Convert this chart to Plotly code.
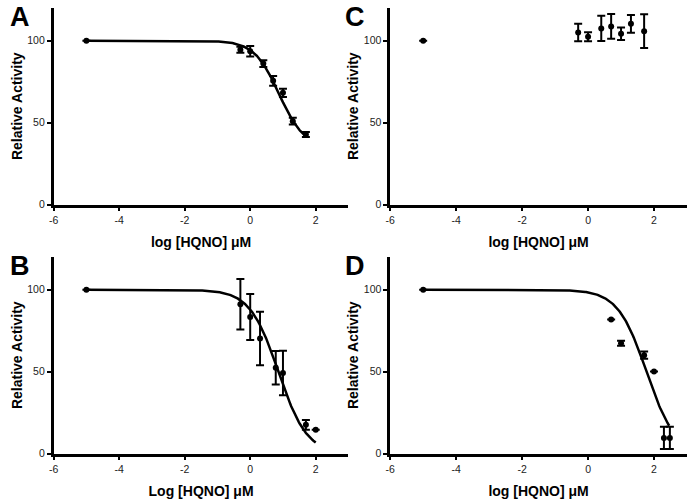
import numpy as np
import plotly.graph_objects as go

# ---------------- data ----------------
a_x = [-5, -0.3, 0, 0.4, 0.7, 1.0, 1.3, 1.7]
a_y = [100, 94.5, 93.6, 86, 75.5, 68.2, 50.9, 42.7]
a_err = [None, 1.8, 3.2, 2.0, 3.0, 2.5, 2.0, 1.5]

c_x = [-5, -0.3, 0, 0.4, 0.7, 1.0, 1.3, 1.7]
c_y = [100, 105, 102.4, 107.5, 108.7, 104.2, 110.3, 105.8]
c_err = [None, 5.3, 2.7, 7.7, 7.6, 3.8, 5.4, 10.3]

b_x = [-5, -0.3, 0, 0.3, 0.78, 1.0, 1.7, 2.0]
b_y = [100, 91.1, 83.3, 70.2, 52.4, 49.2, 17.5, 14.5]
b_err = [None, 15.4, 14.0, 16.3, 10.2, 13.6, 3.0, None]

d_x = [-5, 0.7, 1.0, 1.7, 2.0, 2.3, 2.48]
d_y = [100, 81.8, 67.3, 60, 50.1, 9.5, 9.5]
d_err = [None, None, 1.5, 2.2, None, 6.8, 6.8]

# fitted dose-response (Hill) parameters: top, bottom, logIC50, hill slope, x-end
fit_a = dict(top=100, bottom=35, logic50=0.88, hill=1.15, xmin=-5, xmax=1.7)
fit_b = dict(top=100, bottom=0, logic50=0.86, hill=1.0, xmin=-5, xmax=2.0)
fit_d = dict(top=100, bottom=0, logic50=1.77, hill=1.0, xmin=-5, xmax=2.46)

x_ticks = [-6, -4, -2, 0, 2]
y_ticks = [0, 50, 100]
x_titles = ["log [HQNO] μM", "log [HQNO] μM", "Log [HQNO] μM", "log [HQNO] μM"]
panel_labels = ["A", "C", "B", "D"]


def hill_curve(p):
    xs = np.linspace(p["xmin"], p["xmax"], 300)
    ys = p["bottom"] + (p["top"] - p["bottom"]) / (1 + 10 ** ((xs - p["logic50"]) * p["hill"]))
    return xs, ys


W, H = 688, 504
FONT = "Liberation Sans, Arial, sans-serif"


def px_x(v):
    return v / W


def px_y(v):
    return 1 - v / H


fig = go.Figure()

panels = [
    (a_x, a_y, a_err, fit_a),
    (c_x, c_y, c_err, None),
    (b_x, b_y, b_err, fit_b),
    (d_x, d_y, d_err, fit_d),
]

for i, (px, py, pe, fit) in enumerate(panels):
    suffix = "" if i == 0 else str(i + 1)
    xa, ya = "x" + suffix, "y" + suffix
    if fit is not None:
        cx, cy = hill_curve(fit)
        fig.add_trace(go.Scatter(x=cx, y=cy, mode="lines", xaxis=xa, yaxis=ya,
                                 line=dict(color="black", width=2.5),
                                 showlegend=False, hoverinfo="skip"))
    fig.add_trace(go.Scatter(x=px, y=py, mode="markers", xaxis=xa, yaxis=ya,
                             marker=dict(color="black", size=6),
                             error_y=dict(type="data", array=pe, visible=True,
                                          color="black", thickness=2, width=4),
                             showlegend=False))

left_dom = [px_x(49), px_x(346)]
right_dom = [px_x(388), px_x(687)]
top_dom = [px_y(207), px_y(8)]
bot_dom = [px_y(459), px_y(260)]

doms = [(left_dom, top_dom), (right_dom, top_dom), (left_dom, bot_dom), (right_dom, bot_dom)]

layout = dict(
    width=W, height=H,
    margin=dict(l=0, r=0, t=0, b=0),
    paper_bgcolor="white", plot_bgcolor="white",
    font=dict(family=FONT, color="black"),
    showlegend=False,
)

for i, (xd, yd) in enumerate(doms):
    suffix = "" if i == 0 else str(i + 1)
    layout["xaxis" + suffix] = dict(
        domain=xd, range=[-6, 3], anchor="y" + suffix,
        tickmode="array", tickvals=x_ticks, ticktext=[str(v) for v in x_ticks],
        showgrid=False, zeroline=False, showline=True, linecolor="black", linewidth=2.5,
        ticks="outside", ticklen=4, tickwidth=2, tickcolor="black",
        tickfont=dict(size=10.5, color="#222222", family=FONT),
        title=dict(text="<b>" + x_titles[i] + "</b>", font=dict(size=14, color="black", family=FONT), standoff=13),
    )
    layout["yaxis" + suffix] = dict(
        domain=yd, range=[0, 120], anchor="x" + suffix,
        tickmode="array", tickvals=y_ticks, ticktext=[str(v) for v in y_ticks],
        showgrid=False, zeroline=False, showline=True, linecolor="black", linewidth=2.5,
        ticks="outside", ticklen=4, tickwidth=2, tickcolor="black",
        tickfont=dict(size=10.5, color="#222222", family=FONT),
        title=dict(text="<b>Relative Activity</b>", font=dict(size=14, color="black", family=FONT), standoff=2),
    )

fig.update_layout(**layout)

label_pos = [(15, 17.5), (353, 17.5), (15, 269.5), (353, 269.5)]
for lab, (lx, ly) in zip(panel_labels, label_pos):
    fig.add_annotation(text="<b>" + lab + "</b>", xref="paper", yref="paper",
                       x=px_x(lx), y=px_y(ly), xanchor="center", yanchor="middle",
                       showarrow=False, font=dict(size=27, color="black", family=FONT))

# remove the browser's default 8px page margin so the figure fills the window exactly
fig.write_html("out.html",
               config={"displayModeBar": False},
               post_script="document.body.style.margin='0';document.body.style.overflow='hidden';")
